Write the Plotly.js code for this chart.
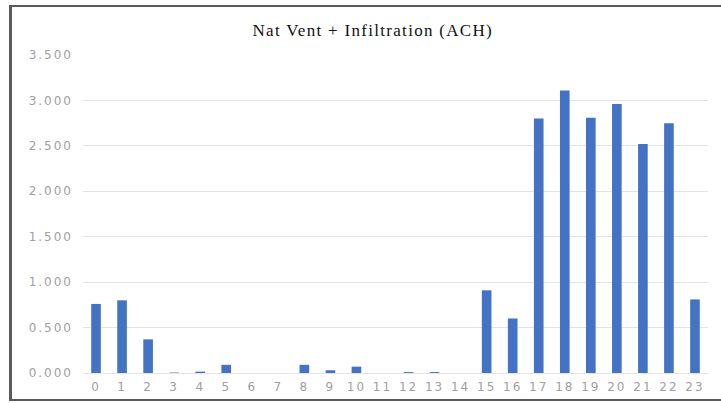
<!DOCTYPE html>
<html>
<head>
<meta charset="utf-8">
<script src="https://cdn.plot.ly/plotly-3.0.1.min.js"></script>
<style>
  html, body { margin: 0; padding: 0; background: #fff; }
  #wrap { position: relative; width: 721px; height: 403px; }
  #chart { width: 721px; height: 403px; }
  #frame { position: absolute; left: 9px; top: 5px; width: 712px; height: 396px;
           border-left: 3px solid #5a5a5a; border-top: 2px solid #5a5a5a; border-bottom: 2px solid #5a5a5a;
           box-sizing: border-box; pointer-events: none; }
  .xtick text, .ytick text { letter-spacing: 2px; }
  .gtitle { letter-spacing: 1.3px; }
</style>
</head>
<body>
<div id="wrap">
  <div id="chart"></div>
  <div id="frame"></div>
</div>
<script>
const hours = ["0","1","2","3","4","5","6","7","8","9","10","11","12","13","14","15","16","17","18","19","20","21","22","23"];
const ach = [0.76, 0.80, 0.37, 0.005, 0.015, 0.09, 0, 0, 0.09, 0.03, 0.07, 0, 0.01, 0.01, 0, 0.91, 0.60, 2.80, 3.11, 2.81, 2.96, 2.52, 2.75, 0.81];
const chartTitle = "Nat Vent + Infiltration (ACH)";
const yTicks = [0, 0.5, 1, 1.5, 2, 2.5, 3, 3.5];

const trace = {
  type: "bar",
  x: hours,
  y: ach,
  marker: { color: "#4472c4" },
  hoverinfo: "x+y"
};

const layout = {
  width: 721,
  height: 403,
  margin: { l: 83, r: 13, t: 55, b: 30, pad: 0 },
  paper_bgcolor: "#ffffff",
  plot_bgcolor: "#ffffff",
  bargap: 0.63,
  showlegend: false,
  title: {
    text: chartTitle,
    font: { family: "Liberation Serif, Times New Roman, serif", size: 17, color: "#111" },
    xref: "container",
    x: 0.517,
    xanchor: "center",
    yref: "container",
    y: 0.925,
    yanchor: "middle"
  },
  xaxis: {
    type: "category",
    showgrid: false,
    zeroline: false,
    showline: false,
    ticks: "",
    tickfont: { family: "DejaVu Sans, Arial, sans-serif", size: 12, color: "#a0a0a0" },
    ticklabelstandoff: 5
  },
  yaxis: {
    range: [0, 3.5],
    tickvals: yTicks,
    tickformat: ".3f",
    showgrid: true,
    gridcolor: "#e3e3e3",
    gridwidth: 1,
    zeroline: true,
    zerolinecolor: "#e3e3e3",
    zerolinewidth: 1,
    showline: false,
    ticks: "",
    tickfont: { family: "DejaVu Sans, Arial, sans-serif", size: 12, color: "#a0a0a0" },
    ticklabelstandoff: 9
  }
};

Plotly.newPlot("chart", [trace], layout, { displayModeBar: false, staticPlot: true });
</script>
</body>
</html>
